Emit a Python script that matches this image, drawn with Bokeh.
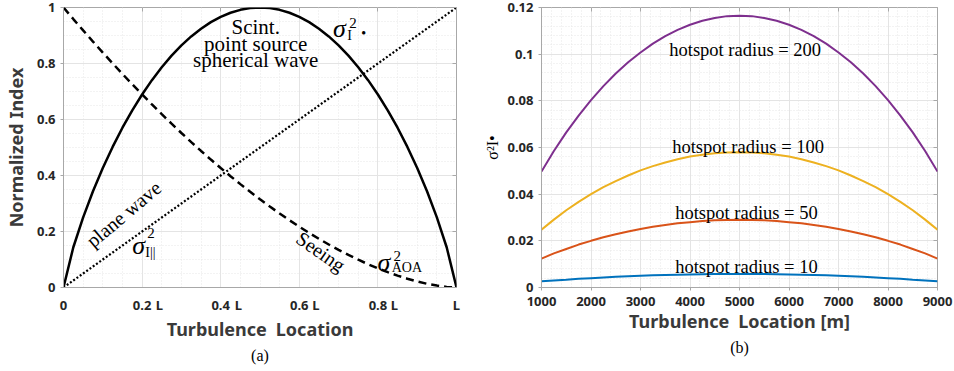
import math
from bokeh.plotting import figure
from bokeh.models import Range1d, FixedTicker, Label, Title, LinearAxis
from bokeh.layouts import row
from bokeh.embed import file_html
from bokeh.resources import INLINE

# ---------------- data: panel (a) ----------------
loc = [0.0, 0.025, 0.05, 0.075, 0.1, 0.125, 0.15, 0.175, 0.2, 0.225, 0.25, 0.275, 0.3, 0.325,
       0.35, 0.375, 0.4, 0.425, 0.45, 0.475, 0.5, 0.525, 0.55, 0.575, 0.6, 0.625, 0.65, 0.675,
       0.7, 0.725, 0.75, 0.775, 0.8, 0.825, 0.85, 0.875, 0.9, 0.925, 0.95, 0.975, 1.0]
scint = [0.0, 0.1437, 0.2506, 0.3437, 0.4268, 0.5021, 0.5706, 0.6328, 0.6894, 0.7406, 0.7868,
         0.8281, 0.8648, 0.8968, 0.9244, 0.9477, 0.9666, 0.9812, 0.9917, 0.9979, 1.0,
         0.9979, 0.9917, 0.9812, 0.9666, 0.9477, 0.9244, 0.8968, 0.8648, 0.8281, 0.7868,
         0.7406, 0.6894, 0.6328, 0.5706, 0.5021, 0.4268, 0.3437, 0.2506, 0.1437, 0.0]
seeing = [1.0, 0.9587, 0.9181, 0.8782, 0.8390, 0.8005, 0.7627, 0.7257, 0.6894, 0.6539, 0.6191,
          0.5851, 0.5518, 0.5194, 0.4877, 0.4569, 0.4268, 0.3976, 0.3692, 0.3417, 0.3150,
          0.2892, 0.2643, 0.2402, 0.2172, 0.1950, 0.1738, 0.1536, 0.1345, 0.1163, 0.0992,
          0.0832, 0.0684, 0.0548, 0.0423, 0.0313, 0.0215, 0.0133, 0.0068, 0.0021, 0.0]
plane = [0.0, 0.025, 0.05, 0.075, 0.1, 0.125, 0.15, 0.175, 0.2, 0.225, 0.25, 0.275, 0.3, 0.325,
         0.35, 0.375, 0.4, 0.425, 0.45, 0.475, 0.5, 0.525, 0.55, 0.575, 0.6, 0.625, 0.65, 0.675,
         0.7, 0.725, 0.75, 0.775, 0.8, 0.825, 0.85, 0.875, 0.9, 0.925, 0.95, 0.975, 1.0]
a_xticks = [0, 0.2, 0.4, 0.6, 0.8, 1]
# tick-label positions: numbers on the ticks, "L" just right of them
a_xlabel_pos = [0, 0.2, 0.244, 0.4, 0.445, 0.6, 0.642, 0.8, 0.842, 1]
a_xlabels = ["0", "0.2", "L", "0.4", "L", "0.6", "L", "0.8", "L", "L"]
a_yticks = [0, 0.2, 0.4, 0.6, 0.8, 1]
a_ylabels = ["0", "0.2", "0.4", "0.6", "0.8", "1"]

# ---------------- data: panel (b) ----------------
pos_m = [1000, 1250, 1500, 1750, 2000, 2250, 2500, 2750, 3000, 3250, 3500, 3750, 4000,
         4250, 4500, 4750, 5000, 5250, 5500, 5750, 6000, 6250, 6500, 6750, 7000, 7250,
         7500, 7750, 8000, 8250, 8500, 8750, 9000]
r200 = [0.0497, 0.0585, 0.0665, 0.0737, 0.0803, 0.0863, 0.0917, 0.0965, 0.1007, 0.1045,
        0.1077, 0.1104, 0.1126, 0.1143, 0.1155, 0.1163, 0.1165, 0.1163, 0.1155, 0.1143,
        0.1126, 0.1104, 0.1077, 0.1045, 0.1007, 0.0965, 0.0917, 0.0863, 0.0803, 0.0737,
        0.0665, 0.0585, 0.0497]
r100 = [0.0248, 0.0291, 0.0331, 0.0367, 0.0400, 0.0430, 0.0456, 0.0480, 0.0502, 0.0520,
        0.0536, 0.0550, 0.0561, 0.0569, 0.0575, 0.0579, 0.0580, 0.0579, 0.0575, 0.0569,
        0.0561, 0.0550, 0.0536, 0.0520, 0.0502, 0.0480, 0.0456, 0.0430, 0.0400, 0.0367,
        0.0331, 0.0291, 0.0248]
r50 = [0.0124, 0.0146, 0.0165, 0.0184, 0.0200, 0.0215, 0.0228, 0.0240, 0.0251, 0.0260,
       0.0268, 0.0275, 0.0280, 0.0285, 0.0288, 0.0289, 0.0290, 0.0289, 0.0288, 0.0285,
       0.0280, 0.0275, 0.0268, 0.0260, 0.0251, 0.0240, 0.0228, 0.0215, 0.0200, 0.0184,
       0.0165, 0.0146, 0.0124]
r10 = [0.0027, 0.0030, 0.0033, 0.0037, 0.0040, 0.0043, 0.0046, 0.0048, 0.0050, 0.0052,
       0.0054, 0.0055, 0.0056, 0.0057, 0.0058, 0.0058, 0.0058, 0.0058, 0.0058, 0.0057,
       0.0056, 0.0055, 0.0054, 0.0052, 0.0050, 0.0048, 0.0046, 0.0043, 0.0040, 0.0037,
       0.0033, 0.0030, 0.0027]
b_xticks = [1000, 2000, 3000, 4000, 5000, 6000, 7000, 8000, 9000]
b_yticks = [0, 0.02, 0.04, 0.06, 0.08, 0.1, 0.12]
b_ylabels = ["0", "0.02", "0.04", "0.06", "0.08", "0.1", "0.12"]

GRAY = "#a8a8a8"
TXT = "#262626"
TICKFONT = "Noto Sans"
SERIF = "Liberation Serif"


def style(p):
    p.background_fill_color = "white"
    p.border_fill_color = "white"
    p.outline_line_color = GRAY
    p.outline_line_width = 1
    for ax in (p.xaxis[0], p.yaxis[0]):
        ax.axis_line_color = GRAY
        ax.major_tick_line_color = GRAY
        ax.minor_tick_line_color = None
        ax.major_tick_in = 0
        ax.major_tick_out = 3
        ax.major_label_text_font = TICKFONT
        ax.major_label_text_font_style = "bold"
        ax.major_label_text_font_size = "13px"
        ax.major_label_text_color = TXT
        ax.axis_label_text_font = TICKFONT
        ax.axis_label_text_font_style = "bold"
        ax.axis_label_text_font_size = "18px"
        ax.axis_label_text_color = "#3a3a3a"
    p.xaxis[0].major_label_standoff = 5
    p.xaxis[0].axis_label_standoff = 0
    p.yaxis[0].major_label_standoff = 4
    for g in (p.xgrid[0], p.ygrid[0]):
        g.grid_line_color = "#e4e4e4"
        g.grid_line_width = 1
        g.minor_grid_line_color = "#e6e6e6"
        g.minor_grid_line_dash = "1 2"
        g.minor_grid_line_width = 1


def edge_ticks(p, xticks, yticks):
    # inward tick marks on the top and right frame edges, no labels
    for side, ticks in (("above", xticks), ("right", yticks)):
        ax = LinearAxis(ticker=FixedTicker(ticks=ticks), axis_line_color=None,
                        major_tick_line_color=GRAY, major_tick_in=4, major_tick_out=0,
                        minor_tick_line_color=None, major_label_text_font_size="0px",
                        major_label_standoff=0,
                        major_label_overrides={t: "" for t in ticks})
        p.add_layout(ax, side)


def lab(p, x, y, text, size, font=SERIF, fstyle="normal", align="left",
        baseline="alphabetic", angle=0.0, color="black", **kw):
    p.add_layout(Label(x=x, y=y, text=text, text_font=font, text_font_size=f"{size}px",
                       text_font_style=fstyle, text_align=align, text_baseline=baseline,
                       angle=angle, text_color=color, **kw))


def caption(p, text):
    p.add_layout(Title(text=text, align="center", text_font=SERIF, text_font_size="16px",
                       text_font_style="normal", text_color="black", standoff=2), "below")


# ================= panel (a) =================
pa = figure(width=480, height=371, output_backend="svg", toolbar_location=None,
            x_range=Range1d(0, 1), y_range=Range1d(0, 1),
            min_border_left=57, min_border_right=24, min_border_top=7, min_border_bottom=84)
minor_a = [i * 0.05 for i in range(21)]
pa.xaxis.ticker = FixedTicker(ticks=a_xlabel_pos)
pa.yaxis.ticker = FixedTicker(ticks=a_yticks, minor_ticks=minor_a)
pa.xgrid.ticker = FixedTicker(ticks=a_xticks, minor_ticks=minor_a)
pa.xaxis.major_label_overrides = {t: s for t, s in zip(a_xlabel_pos, a_xlabels)}
pa.yaxis.major_label_overrides = {t: s for t, s in zip(a_yticks, a_ylabels)}
pa.xaxis.axis_label = "Turbulence\u2002Location"
pa.yaxis.axis_label = "Normalized Index"
style(pa)
pa.xaxis.major_tick_out = 0
pa.xaxis.major_label_standoff = 8
pa.yaxis.axis_label_standoff = 6
edge_ticks(pa, a_xticks, a_yticks)

pa.line(loc, scint, line_color="black", line_width=2.5)
pa.line(loc, seeing, line_color="black", line_width=2.5, line_dash="8 5")
pa.line(loc, plane, line_color="black", line_width=2.2, line_dash="2 2")

# annotations
lab(pa, 0.489, 0.929, "Scint.", 21, align="center")
lab(pa, 0.489, 0.871, "point source", 21, align="center")
lab(pa, 0.489, 0.813, "spherical wave", 21, align="center")

lab(pa, 0.686, 0.925, "σ", 26, fstyle="italic")
lab(pa, 0.727, 0.943, "2", 15)
lab(pa, 0.722, 0.900, "I", 14)
lab(pa, 0.764, 0.911, "●", 8, align="center", baseline="middle")

lab(pa, 0.153, 0.262, "plane wave", 20, align="center", baseline="middle",
    angle=math.radians(40))
lab(pa, 0.175, 0.150, "σ", 26, fstyle="italic")
lab(pa, 0.213, 0.193, "2", 15)
lab(pa, 0.208, 0.125, "I||", 14)

lab(pa, 0.655, 0.128, "Seeing", 20, align="center", baseline="middle",
    angle=math.radians(-35))
lab(pa, 0.799, 0.089, "σ", 26, fstyle="italic")
lab(pa, 0.840, 0.114, "2", 15)
lab(pa, 0.835, 0.071, "AOA", 14)

caption(pa, "(a)")

# ================= panel (b) =================
pb = figure(width=474, height=371, output_backend="svg", toolbar_location=None,
            x_range=Range1d(1000, 9000), y_range=Range1d(0, 0.12),
            min_border_left=57, min_border_right=17, min_border_top=7, min_border_bottom=84)
pb.xaxis.ticker = FixedTicker(ticks=b_xticks,
                              minor_ticks=[1000 + i * 200 for i in range(41)])
pb.yaxis.ticker = FixedTicker(ticks=b_yticks,
                              minor_ticks=[i * 0.004 for i in range(31)])
pb.yaxis.major_label_overrides = {t: s for t, s in zip(b_yticks, b_ylabels)}
pb.xaxis.axis_label = "Turbulence\u2002Location [m]"
pb.yaxis.axis_label = "σ²I•"
style(pb)
pb.yaxis.axis_label_standoff = 4
pb.yaxis.axis_label_text_font = SERIF
pb.yaxis.axis_label_text_font_style = "normal"
pb.yaxis.axis_label_text_font_size = "16px"
pb.yaxis.axis_label_text_color = "black"
edge_ticks(pb, b_xticks, b_yticks)

pb.line(pos_m, r200, line_color="#7E2F8E", line_width=2)
pb.line(pos_m, r100, line_color="#EDB120", line_width=2)
pb.line(pos_m, r50, line_color="#D95319", line_width=2)
pb.line(pos_m, r10, line_color="#0072BD", line_width=2)

lab(pb, 5114, 0.1016, "hotspot radius = 200", 18.5, align="center")
lab(pb, 5173, 0.0601, "hotspot radius = 100", 18.5, align="center")
lab(pb, 5140, 0.0320, "hotspot radius = 50", 18.5, align="center")
lab(pb, 5140, 0.0087, "hotspot radius = 10", 18.5, align="center")

caption(pb, "(b)")

layout = row(pa, pb)
open("out.html", "w").write(file_html(layout, INLINE))
